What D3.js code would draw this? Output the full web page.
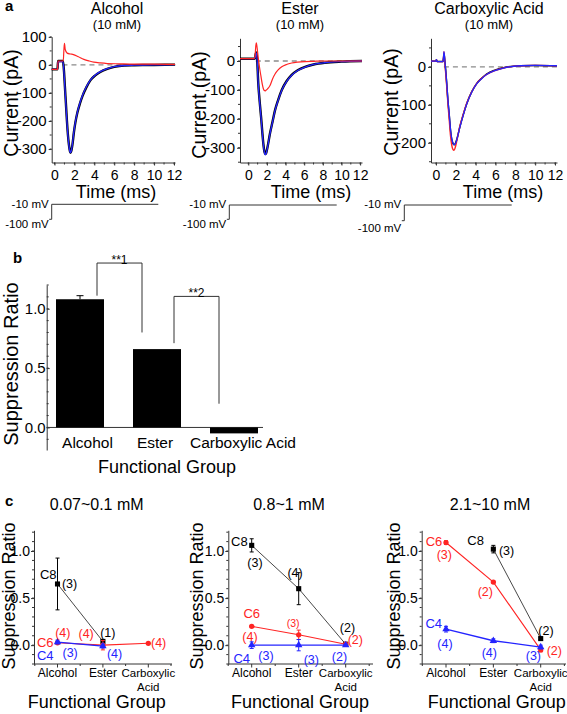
<!DOCTYPE html>
<html><head><meta charset="utf-8">
<script src="https://cdn.jsdelivr.net/npm/d3@7"></script>
<style>
body{margin:0;background:#fff}
svg{display:block}
text{font-family:"Liberation Sans",Arial,Helvetica,sans-serif}
</style>
</head><body>
<svg id="fig" width="567" height="714"></svg>
<script>
// ================= DATA =================
// Panel a : current traces (time in ms, current in pA)
const traceTitles = ["Alcohol", "Ester", "Carboxylic Acid"];
const traceConc = ["(10 mM)", "(10 mM)", "(10 mM)"];
const timeTicks = [0, 2, 4, 6, 8, 10, 12];
const currentTicks = [[-300, -200, -100, 0, 100], [-300, -200, -100, 0], [-200, -100, 0]];

const alcTime = [-0.28, 0.3, 0.36, 0.85, 0.95, 1.05, 1.15, 1.25, 1.35, 1.45, 1.55, 1.62, 1.7, 1.8, 1.95, 2.1, 2.3, 2.55, 2.8, 3.2, 3.6, 4.1, 4.6, 5.3, 6.0, 7.0, 8.0, 10.0, 12.1];
const alcControl = [-16, -16, 14, 14, -20, -80, -140, -200, -250, -285, -308, -313, -305, -285, -240, -205, -170, -138, -112, -80, -55, -37, -25, -14, -7, -2, -1, 0, 1];
const alcWash = [-16, -16, 12, 12, -24, -84, -144, -203, -252, -287, -309, -313, -304, -283, -238, -203, -168, -136, -110, -78, -54, -36, -24, -13, -6, -2, -1, 0, 1];
const alcDrugTime = [-0.28, 0.3, 0.36, 0.88, 0.94, 1.0, 1.08, 1.27, 1.6, 1.9, 2.4, 2.95, 3.5, 3.95, 4.6, 5.3, 6.5, 8.0, 10.0, 12.1];
const alcDrug = [-16, -16, 14, 14, 50, 77, 55, 42, 39, 37, 29, 20, 14, 10, 7, 5, 4, 3, 3, 2];

const esterTime = [-0.89, 0.6, 0.72, 0.8, 0.86, 0.95, 1.07, 1.22, 1.37, 1.5, 1.61, 1.72, 1.8, 1.9, 2.05, 2.33, 2.6, 2.87, 3.2, 3.59, 4.1, 4.66, 5.3, 6.1, 7.0, 8.2, 10.0, 12.2];
const esterControl = [8, 8, 10, 25, 30, 5, -77, -140, -193, -245, -285, -312, -322, -320, -300, -250, -210, -170, -135, -100, -70, -48, -32, -20, -12, -6, -2, 0];
const esterWash = [8, 8, 10, 22, 28, 2, -80, -143, -196, -248, -288, -314, -324, -321, -301, -251, -211, -171, -136, -101, -71, -49, -33, -21, -12, -6, -2, 0];
const esterDrug = [8, 8, 15, 50, 63, 45, 10, -25, -55, -80, -95, -102, -103, -101, -97, -85, -62, -45, -31, -20, -12, -7, -4, -2, -1, 0, 0, 0];

const carbTime = [-0.5, 0.0, 0.05, 0.12, 0.7, 0.76, 0.81, 0.9, 1.08, 1.2, 1.34, 1.46, 1.58, 1.7, 1.82, 1.95, 2.1, 2.42, 2.75, 3.1, 3.6, 4.1, 4.6, 5.1, 6.0, 6.8, 8.5, 10.0, 12.2];
const carbControl = [15, 15, 19, 14, 14, 22, 34, 14, -42, -87, -127, -165, -190, -201, -205, -202, -191, -157, -126, -97, -66, -44, -30, -19, -8, -2, 3, 4, 3];
const carbDrug = [15, 15, 19, 14, 14, 25, 40, 10, -50, -95, -140, -180, -205, -217, -220, -212, -195, -155, -125, -96, -66, -44, -30, -20, -9, -3, 3, 4, 3];
const carbWash = [15, 15, 19, 14, 14, 25, 40, 15, -40, -85, -125, -163, -188, -200, -205, -203, -192, -158, -127, -98, -67, -45, -31, -20, -9, -3, 3, 4, 3];

const protocolLabels = ["-10 mV", "-100 mV"];

// Panel b : suppression ratio by functional group
const groups = ["Alcohol", "Ester", "Carboxylic Acid"];
const suppression = [1.08, 0.66, -0.05];
const suppressionErr = [0.03, 0, 0];
const ratioTicks = [0, 0.5, 1.0];
const sigLabels = ["**1", "**2"];
const sigFrom = [0, 1];
const sigTo = [1, 2];
const sigTop = [1.385, 1.104];
const sigLeftEnd = [1.11, 0.71];
const sigRightEnd = [0.80, 0.20];

// Panel c : suppression ratio per chain length and concentration range
const cTitles = ["0.07~0.1 mM", "0.8~1 mM", "2.1~10 mM"];
const cGroups = ["Alcohol", "Ester", "Carboxylic Acid"];
const cGroupLines = [["Alcohol"], ["Ester"], ["Carboxylic", "Acid"]];
const c8 = [[0.65, 0.04, null], [1.06, 0.60, 0.01], [null, 1.02, 0.07]];
const c8Err = [[0.275, 0, 0], [0.07, 0.17, 0.01], [0, 0.04, 0.01]];
const c6 = [[0.025, 0.0, 0.02], [0.20, 0.11, 0.01], [1.09, 0.67, -0.05]];
const c6Err = [[0.01, 0.05, 0.005], [0.01, 0.05, 0.01], [0.02, 0.01, 0.02]];
const c4 = [[0.033, -0.01, null], [0.0, 0.0, 0.0], [0.17, 0.047, -0.02]];
const c4Err = [[0.02, 0.02, 0], [0.035, 0.06, 0.01], [0.03, 0.02, 0.02]];

// ================= STYLE / LAYOUT =================
const RED = "#ff2424", BLUE = "#2424ff", BLACK = "#000", AX = "#333";
const svg = d3.select("#fig");

function styleAxis(g, fs) {
  g.attr("font-family", null).attr("font-size", fs);
  g.selectAll(".domain").attr("stroke", AX).attr("stroke-width", 1);
  g.selectAll(".tick line").attr("stroke", AX).attr("stroke-width", 1);
  g.selectAll(".tick text").attr("fill", "#000");
}

function panelLetter(t, x, y) {
  svg.append("text").attr("x", x).attr("y", y).attr("font-size", 15).attr("font-weight", "bold").text(t);
}

// ---------- Panel a ----------
panelLetter("a", 5, 11);
const aLayout = [
  {xr: [51.7, 175], t: [-0.28, 12.1], yr: [162.5, 36.7], v: [-348, 100.7], cx: 117, ylx: 18, yly: 103, xlx: 116},
  {xr: [240, 362], t: [-0.89, 12.2], yr: [162.5, 38.3], v: [-351, 78.5], cx: 300, ylx: 206, yly: 105, xlx: 311},
  {xr: [431, 557], t: [-0.5, 12.2], yr: [162.5, 38.3], v: [-252, 75.4], cx: 489, ylx: 398, yly: 102, xlx: 503}
];
const aTraces = [
  [{t: alcTime, v: alcControl, c: BLACK, w: 2.4}, {t: alcTime, v: alcWash, c: BLUE, w: 1.3}, {t: alcDrugTime, v: alcDrug, c: RED, w: 1.2}],
  [{t: esterTime, v: esterControl, c: BLACK, w: 2.4}, {t: esterTime, v: esterWash, c: BLUE, w: 1.3}, {t: esterTime, v: esterDrug, c: RED, w: 1.2}],
  [{t: carbTime, v: carbControl, c: BLACK, w: 1.5}, {t: carbTime, v: carbDrug, c: RED, w: 1.4}, {t: carbTime, v: carbWash, c: BLUE, w: 1.3}]
];

aLayout.forEach((L, i) => {
  const x = d3.scaleLinear().domain(L.t).range(L.xr);
  const y = d3.scaleLinear().domain(L.v).range(L.yr);
  const g = svg.append("g");
  g.append("text").attr("x", L.cx).attr("y", 14).attr("text-anchor", "middle").attr("font-size", 16).text(traceTitles[i]);
  g.append("text").attr("x", L.cx).attr("y", 28.5).attr("text-anchor", "middle").attr("font-size", 13).text(traceConc[i]);
  const minorY = d3.range(Math.ceil(L.v[0] / 50) * 50, L.v[1] + 0.1, 50);
  g.selectAll(".my").data(minorY).join("line")
    .attr("x1", L.xr[0] - 2).attr("x2", L.xr[0]).attr("y1", d => y(d)).attr("y2", d => y(d))
    .attr("stroke", AX).attr("stroke-width", 1);
  const minorX = d3.range(0, 12.5, 1);
  g.selectAll(".mx").data(minorX).join("line")
    .attr("x1", d => x(d)).attr("x2", d => x(d)).attr("y1", L.yr[0]).attr("y2", L.yr[0] + 2)
    .attr("stroke", AX).attr("stroke-width", 1);
  const ya = g.append("g").attr("transform", `translate(${L.xr[0]},0)`)
    .call(d3.axisLeft(y).tickValues(currentTicks[i]).tickSize(3).tickSizeOuter(0).tickPadding(2).tickFormat(d => String(d)));
  styleAxis(ya, 15);
  const xa = g.append("g").attr("transform", `translate(0,${L.yr[0]})`)
    .call(d3.axisBottom(x).tickValues(timeTicks).tickSize(3).tickSizeOuter(0).tickPadding(5).tickFormat(d => String(d)));
  styleAxis(xa, 14);
  g.append("line").attr("x1", x(0.8)).attr("x2", x(12.2)).attr("y1", y(0)).attr("y2", y(0))
    .attr("stroke", "#8a8a8a").attr("stroke-width", 1.3).attr("stroke-dasharray", "5,4");
  aTraces[i].forEach(tr => {
    const pts = tr.t.map((t, k) => [t, tr.v[k]]);
    g.append("path").datum(pts)
      .attr("d", d3.line().x(d => x(d[0])).y(d => y(d[1])).curve(d3.curveMonotoneX))
      .attr("fill", "none").attr("stroke", tr.c).attr("stroke-width", tr.w).attr("stroke-linejoin", "round");
  });
  g.append("text").attr("transform", `translate(${L.ylx},${L.yly}) rotate(-90)`)
    .attr("text-anchor", "middle").attr("font-size", 19.5).text("Current (pA)");
  g.append("text").attr("x", L.xlx).attr("y", 198).attr("text-anchor", "middle").attr("font-size", 18).text("Time (ms)");
});

// voltage protocol
const protoLayout = [
  {sx: 51.7, top: 204.3, bot: 219.3, end: 158.3, l1: 208.3, l2: 228.3},
  {sx: 229.3, top: 205, bot: 219.3, end: 336.7, l1: 208.3, l2: 228.3},
  {sx: 404.3, top: 205, bot: 220.7, end: 511.7, l1: 208.3, l2: 231.7}
];
protoLayout.forEach(P => {
  svg.append("path").attr("d", `M${P.sx - 2.5},${P.bot}H${P.sx}V${P.top}H${P.end}`)
    .attr("fill", "none").attr("stroke", "#333").attr("stroke-width", 1);
  svg.append("text").attr("x", P.sx - 3).attr("y", P.l1).attr("text-anchor", "end").attr("font-size", 11.5).text(protocolLabels[0]);
  svg.append("text").attr("x", P.sx - 3).attr("y", P.l2).attr("text-anchor", "end").attr("font-size", 11.5).text(protocolLabels[1]);
});

// ---------- Panel b ----------
panelLetter("b", 13, 263);
{
  const bx = d3.scalePoint().domain(groups).range([80, 234]);
  const by = d3.scaleLinear().domain([-0.19, 1.2]).range([450, 285]);
  const bw = 48;
  const g = svg.append("g");
  const minor = d3.range(-0.1, 1.21, 0.1);
  g.selectAll(".mb").data(minor).join("line")
    .attr("x1", 46.7).attr("x2", 48.7).attr("y1", d => by(d)).attr("y2", d => by(d))
    .attr("stroke", AX).attr("stroke-width", 1);
  const ya = g.append("g").attr("transform", "translate(46.7,0)")
    .call(d3.axisLeft(by).tickValues(ratioTicks).tickSize(-3).tickSizeOuter(0).tickPadding(1).tickFormat(d3.format(".1f")));
  styleAxis(ya, 15);
  g.append("line").attr("x1", 46.7).attr("x2", 263).attr("y1", by(0)).attr("y2", by(0)).attr("stroke", AX).attr("stroke-width", 1);
  g.selectAll(".bar").data(groups).join("rect")
    .attr("x", d => bx(d) - bw / 2).attr("width", bw)
    .attr("y", (d, i) => by(Math.max(0, suppression[i])))
    .attr("height", (d, i) => Math.abs(by(suppression[i]) - by(0)))
    .attr("fill", "#000");
  groups.forEach((d, i) => {
    if (suppressionErr[i] > 0) {
      const cx = bx(d), y1 = by(suppression[i] + suppressionErr[i]);
      g.append("line").attr("x1", cx).attr("x2", cx).attr("y1", by(suppression[i])).attr("y2", y1).attr("stroke", "#000");
      g.append("line").attr("x1", cx - 3.5).attr("x2", cx + 3.5).attr("y1", y1).attr("y2", y1).attr("stroke", "#000");
    }
  });
  const labelDx = [7.5, -2, 9];
  groups.forEach((d, i) => {
    g.append("text").attr("x", bx(d) + labelDx[i]).attr("y", 448).attr("text-anchor", "middle").attr("font-size", 15.5).text(d);
  });
  sigLabels.forEach((s, i) => {
    const lx = bx(groups[sigFrom[i]]) + 17, rx = bx(groups[sigTo[i]]) - 15;
    g.append("path").attr("d", `M${lx},${by(sigLeftEnd[i])}V${by(sigTop[i])}H${rx}V${by(sigRightEnd[i])}`)
      .attr("fill", "none").attr("stroke", "#333").attr("stroke-width", 1);
    g.append("text").attr("x", (lx + rx) / 2).attr("y", by(sigTop[i]) + 1).attr("text-anchor", "middle").attr("font-size", 12).text(s);
  });
  g.append("text").attr("transform", "translate(18,364) rotate(-90)").attr("text-anchor", "middle").attr("font-size", 20).text("Suppression Ratio");
  g.append("text").attr("x", 167).attr("y", 473).attr("text-anchor", "middle").attr("font-size", 18).text("Functional Group");
}

// ---------- Panel c ----------
panelLetter("c", 5, 506);
const cLayout = [
  {x0: 34, xr: [57.5, 148.3], xEnd: 172, tx: 96.7, ylx: 15, fx: 96.7},
  {x0: 228.3, xr: [251.7, 345.7], xEnd: 373, tx: 289, ylx: 203, fx: 300},
  {x0: 421.7, xr: [446, 540.7], xEnd: 566, tx: 490, ylx: 400, fx: 496.7}
];
const cSeries = [
  {v: c8, e: c8Err, c: BLACK, lc: "#333", lw: 0.9, sym: d3.symbolSquare, size: 26},
  {v: c6, e: c6Err, c: RED, lc: RED, lw: 1.1, sym: d3.symbolCircle, size: 22},
  {v: c4, e: c4Err, c: BLUE, lc: BLUE, lw: 1.3, sym: d3.symbolTriangle, size: 24}
];
// annotation layout: [panel, text, colour, category, dx, value, anchor, size]
const cLabels = [
  [0, "C8", BLACK, 0, -1, 0.708, "end", 13], [0, "(3)", BLACK, 0, 4.4, 0.602, "start", 12.5],
  [0, "(4)", RED, 0, -2.3, 0.089, "start", 12.5], [0, "(4)", RED, 0, 21, 0.072, "start", 12.5],
  [0, "(1)", BLACK, 1, -2.7, 0.083, "start", 12.5], [0, "C6", RED, 0, -4, -0.017, "end", 13],
  [0, "(4)", RED, 2, 2.7, -0.017, "start", 12.5], [0, "C4", BLUE, 0, -4, -0.158, "end", 13],
  [0, "(3)", BLUE, 0, 5, -0.123, "start", 12.5], [0, "(4)", BLUE, 1, 4, -0.134, "start", 12.5],
  [1, "C8", BLACK, 0, -4, 1.051, "end", 13], [1, "(3)", BLACK, 0, 3.3, 0.831, "middle", 12.5],
  [1, "(4)", BLACK, 1, -3.6, 0.719, "middle", 12.5], [1, "C6", RED, 0, 0, 0.284, "middle", 13],
  [1, "(3)", RED, 1, -5.5, 0.195, "middle", 10.5], [1, "(4)", RED, 0, -1.7, 0.047, "middle", 12.5],
  [1, "(2)", BLACK, 2, 1.8, 0.142, "middle", 12.5], [1, "(2)", RED, 2, 2, 0.012, "start", 12.5],
  [1, "C4", BLUE, 0, -1.7, -0.193, "end", 13], [1, "(3)", BLUE, 0, 6.6, -0.158, "start", 12.5],
  [1, "(3)", BLUE, 1, 5, -0.2, "start", 12.5], [1, "(2)", BLUE, 2, -6.2, -0.165, "middle", 12.5],
  [2, "C6", RED, 0, -3.7, 1.051, "end", 13], [2, "(3)", RED, 0, -1.7, 0.91, "middle", 12.5],
  [2, "C8", BLACK, 1, -9.4, 1.062, "end", 13], [2, "(3)", BLACK, 1, 5.6, 0.955, "start", 12.5],
  [2, "(2)", RED, 1, -0.4, 0.521, "end", 12.5], [2, "C4", BLUE, 0, -4, 0.178, "end", 13],
  [2, "(4)", BLUE, 0, -1, -0.034, "middle", 12.5], [2, "(4)", BLUE, 1, -4, -0.123, "middle", 12.5],
  [2, "(2)", BLACK, 2, -2.4, 0.107, "start", 12.5], [2, "(3)", BLUE, 2, 0.3, -0.158, "end", 12.5],
  [2, "(2)", RED, 2, 6, -0.105, "start", 12.5]
];

cLayout.forEach((L, p) => {
  const x = d3.scalePoint().domain(cGroups).range(L.xr);
  const y = d3.scaleLinear().domain([-0.2, 1.22]).range([664, 530.3]);
  const g = svg.append("g");
  g.append("text").attr("x", L.tx).attr("y", 510).attr("text-anchor", "middle").attr("font-size", 16).text(cTitles[p]);
  g.selectAll(".mc").data(d3.range(-0.2, 1.21, 0.1)).join("line")
    .attr("x1", L.x0 - 2).attr("x2", L.x0).attr("y1", d => y(d)).attr("y2", d => y(d))
    .attr("stroke", AX).attr("stroke-width", 1);
  const ya = g.append("g").attr("transform", `translate(${L.x0},0)`)
    .call(d3.axisLeft(y).tickValues(ratioTicks).tickSize(3).tickSizeOuter(0).tickPadding(1).tickFormat(d3.format(".1f")));
  styleAxis(ya, 14);
  g.append("line").attr("x1", L.x0).attr("x2", L.xEnd).attr("y1", 664).attr("y2", 664).attr("stroke", AX).attr("stroke-width", 1);
  const step = x.step();
  const xt = [x(cGroups[0]) - step / 2, ...cGroups.map(d => x(d)), x(cGroups[1]) - step / 2, x(cGroups[2]) - step / 2, x(cGroups[2]) + step / 2];
  g.selectAll(".xt").data(xt).join("line")
    .attr("x1", d => d).attr("x2", d => d).attr("y1", 664).attr("y2", (d, k) => k >= 1 && k <= 3 ? 667.5 : 666)
    .attr("stroke", AX).attr("stroke-width", 1);
  cGroups.forEach((d, k) => {
    cGroupLines[k].forEach((ln, j) => {
      g.append("text").attr("x", x(d)).attr("y", 677 + j * 13.5).attr("text-anchor", "middle")
        .attr("font-size", k === 2 ? 11.5 : 12).text(ln);
    });
  });
  cSeries.forEach(S => {
    const vals = S.v[p], errs = S.e[p];
    const pts = cGroups.map((d, k) => ({k, cx: x(d), v: vals[k], e: errs[k]}));
    g.append("path").datum(pts)
      .attr("d", d3.line().defined(d => d.v !== null).x(d => d.cx).y(d => y(d.v)))
      .attr("fill", "none").attr("stroke", S.lc).attr("stroke-width", S.lw);
    pts.filter(d => d.v !== null && d.e > 0).forEach(d => {
      g.append("line").attr("x1", d.cx).attr("x2", d.cx).attr("y1", y(d.v - d.e)).attr("y2", y(d.v + d.e)).attr("stroke", S.c).attr("stroke-width", 1);
      [d.v - d.e, d.v + d.e].forEach(vv => g.append("line").attr("x1", d.cx - 2).attr("x2", d.cx + 2)
        .attr("y1", y(vv)).attr("y2", y(vv)).attr("stroke", S.c).attr("stroke-width", 1));
    });
    g.selectAll(null).data(pts.filter(d => d.v !== null)).join("path")
      .attr("d", d3.symbol().type(S.sym).size(S.size))
      .attr("transform", d => `translate(${d.cx},${y(d.v)})`)
      .attr("fill", S.c);
  });
  cLabels.filter(a => a[0] === p).forEach(a => {
    g.append("text").attr("x", x(cGroups[a[3]]) + a[4]).attr("y", y(a[5]))
      .attr("text-anchor", a[6]).attr("font-size", a[7]).attr("fill", a[2]).text(a[1]);
  });
  g.append("text").attr("transform", `translate(${L.ylx},596) rotate(-90)`).attr("text-anchor", "middle").attr("font-size", 18).text("Suppression Ratio");
  g.append("text").attr("x", L.fx).attr("y", 708).attr("text-anchor", "middle").attr("font-size", 18).text("Functional Group");
});
</script>
</body></html>
